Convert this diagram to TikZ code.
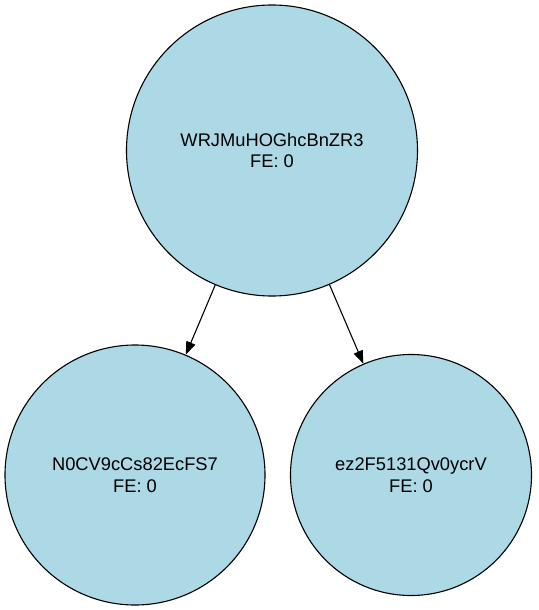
\documentclass[tikz,border=0pt]{standalone}
\usepackage{fontspec}
\setmainfont{Liberation Sans}
\usetikzlibrary{arrows.meta}
\definecolor{nodeblue}{HTML}{ADD8E6}
\tikzset{
  treenode/.style={circle, draw=black, fill=nodeblue, line width=1.1pt, inner sep=0pt, align=center,
    font=\fontsize{18.3}{21.5}\selectfont},
  treeedge/.style={line width=1.1pt, -{Triangle[length=13pt,width=9.5pt]}}
}
\begin{document}
\begin{tikzpicture}[x=1pt,y=-1pt]
\useasboundingbox (0,0) rectangle (538,610);
\node[treenode, minimum size=291pt] (top) at (272,150.5) {WRJMuHOGhcBnZR3\\FE: 0};
\node[treenode, minimum size=260pt] (left) at (135,475) {N0CV9cCs82EcFS7\\FE: 0};
\node[treenode, minimum size=241pt] (right) at (411,475) {ez2F5131Qv0ycrV\\FE: 0};
\draw[treeedge] (top) -- (left);
\draw[treeedge] (top) -- (right);
\end{tikzpicture}
\end{document}
